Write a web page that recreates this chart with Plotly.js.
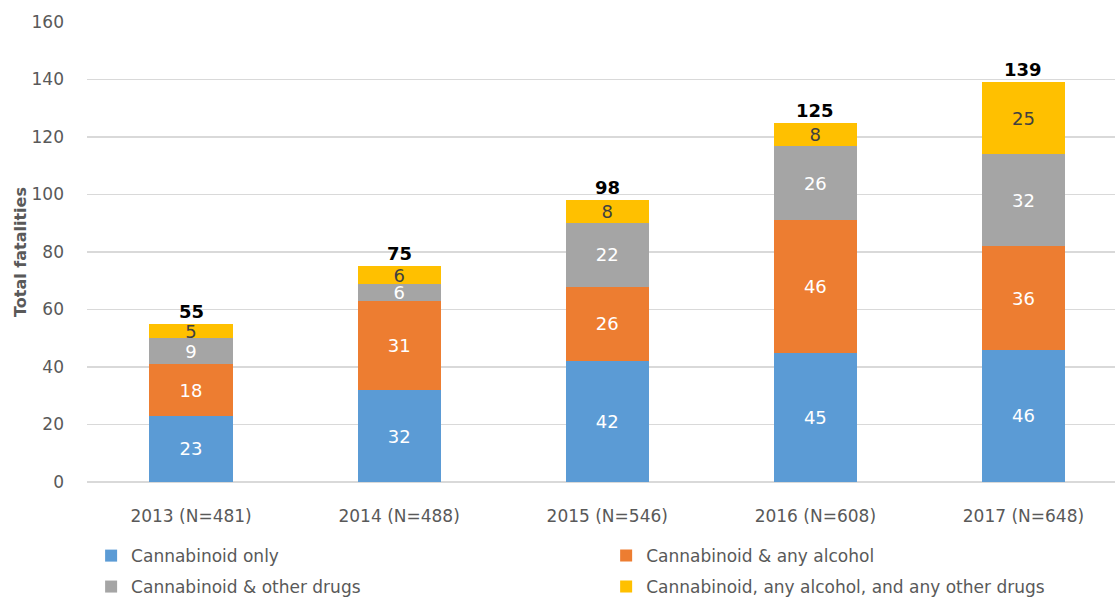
<!DOCTYPE html>
<html><head><meta charset="utf-8">
<script src="https://cdn.plot.ly/plotly-3.0.1.min.js"></script>
<style>body{margin:0;background:#fff}#c{width:1115px;height:605px}</style>
</head><body><div id="c"></div>
<script>
const categories = ["2013 (N=481)","2014 (N=488)","2015 (N=546)","2016 (N=608)","2017 (N=648)"];
const cannabinoidOnly = [23, 32, 42, 45, 46];
const cannabinoidAlcohol = [18, 31, 26, 46, 36];
const cannabinoidOtherDrugs = [9, 6, 22, 26, 32];
const cannabinoidAll = [5, 6, 8, 8, 25];
const seriesNames = ["Cannabinoid only","Cannabinoid & any alcohol","Cannabinoid & other drugs","Cannabinoid, any alcohol, and any other drugs"];
const seriesColors = ["#5B9BD5","#ED7D31","#A5A5A5","#FFC000"];
const labelColors = ["#ffffff","#ffffff","#ffffff","#404040"];
const seriesValues = [cannabinoidOnly, cannabinoidAlcohol, cannabinoidOtherDrugs, cannabinoidAll];
const legendIds = ["legend","legend2","legend3","legend4"];

const font = "DejaVu Sans, sans-serif";
const traces = seriesValues.map((vals, i) => ({
  type: "bar", name: seriesNames[i], x: categories, y: vals,
  marker: {color: seriesColors[i]}, legend: legendIds[i],
  text: vals.map(String), textposition: "inside", insidetextanchor: "middle", textangle: 0,
  textfont: {color: labelColors[i], size: 18, family: font},
  hoverinfo: "none", cliponaxis: false
}));
const totals = categories.map((c, j) => seriesValues.reduce((s, v) => s + v[j], 0));
const annotations = categories.map((c, j) => ({
  x: c, y: totals[j], text: "<b>" + totals[j] + "</b>", showarrow: false,
  yanchor: "bottom", yshift: 0, font: {size: 18, color: "#000", family: font}
}));
const legendBase = {orientation: "h", xanchor: "left", yanchor: "middle",
  font: {size: 17, color: "#595959", family: font}, bgcolor: "rgba(0,0,0,0)"};
const col1 = 0.004, col2 = 0.505, row1 = -0.161, row2 = -0.229;
const layout = {
  width: 1115, height: 605,
  margin: {l: 87, r: 0, t: 22, b: 123},
  barmode: "stack", bargap: 0.6,
  showlegend: true,
  uniformtext: {minsize: 18, mode: "show"},
  font: {family: font, color: "#595959", size: 17},
  xaxis: {type: "category", range: [-0.5, 4.44], showgrid: false, zeroline: false,
          tickfont: {size: 17, color: "#595959", family: font}, ticks: "", ticklabelstandoff: 22},
  yaxis: {range: [0, 160], dtick: 20, showgrid: true, gridcolor: "#D9D9D9", gridwidth: 1.3,
          zeroline: true, zerolinecolor: "#D9D9D9", zerolinewidth: 2,
          tickfont: {size: 17, color: "#595959", family: font}, ticklabelstandoff: 22,
          title: {text: "<b>Total fatalities</b>", font: {size: 16, color: "#595959", family: font}, standoff: 0}},
  legend: Object.assign({}, legendBase, {x: col1, y: row1}),
  legend2: Object.assign({}, legendBase, {x: col2, y: row1}),
  legend3: Object.assign({}, legendBase, {x: col1, y: row2}),
  legend4: Object.assign({}, legendBase, {x: col2, y: row2}),
  annotations: annotations,
  plot_bgcolor: "#fff", paper_bgcolor: "#fff"
};
Plotly.newPlot("c", traces, layout, {displayModeBar: false, staticPlot: true});
</script></body></html>
